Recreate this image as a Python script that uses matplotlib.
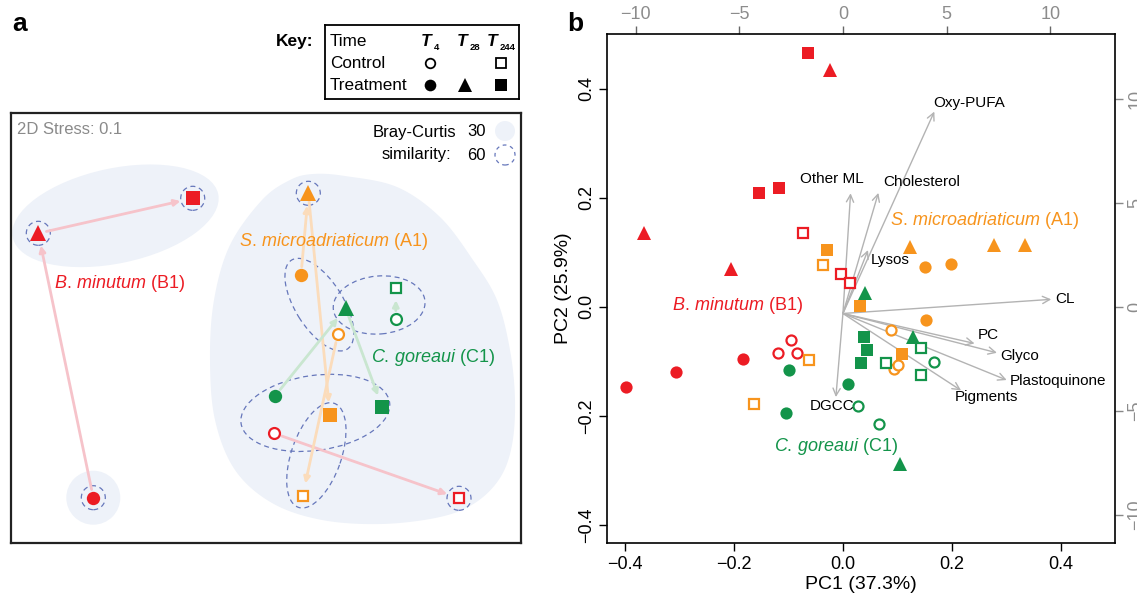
import numpy as np
import matplotlib.pyplot as plt
from matplotlib.patches import Ellipse, Circle

plt.rcParams['font.family'] = ['Liberation Sans', 'DejaVu Sans']
plt.rcParams['mathtext.fontset'] = 'custom'
plt.rcParams['mathtext.rm'] = 'Liberation Sans'
plt.rcParams['mathtext.it'] = 'Liberation Sans:italic'
plt.rcParams['mathtext.bf'] = 'Liberation Sans:bold'

W, H = 1137, 594
RED, ORANGE, GREEN = "#ec1c24", "#f7941d", "#13944a"
PALE = {"B1": "#f6c3ca", "A1": "#fbdcbb", "C1": "#c9e6d0"}
COL = {"B1": RED, "A1": ORANGE, "C1": GREEN}
FILL = "#eef2f9"
DASH = "#6677bb"

# ── groups: (marker, filled) ─────────────────────────────────────────────────
GROUPS = ["T4 ctrl", "T4 trt", "T28 trt", "T244 ctrl", "T244 trt"]
MARK = {"T4 ctrl": ("o", False), "T4 trt": ("o", True), "T28 trt": ("^", True),
        "T244 ctrl": ("s", False), "T244 trt": ("s", True)}

# ── panel a: NMDS centroids (order = GROUPS) ─────────────────────────────────
nmds_B1_x = [0.09, -1.717, -2.267, 1.94, -0.723]
nmds_B1_y = [-1.053, -1.697, 0.947, -1.703, 1.297]
nmds_A1_x = [0.727, 0.36, 0.433, 0.377, 0.65]
nmds_A1_y = [-0.063, 0.53, 1.347, -1.677, -0.87]
nmds_C1_x = [1.307, 0.10, 0.807, 1.31, 1.173]
nmds_C1_y = [0.09, -0.68, 0.197, 0.403, -0.793]

# 30 % similarity contour around A1 / C1 / B1 controls
blob_x = [0.48, 0.80, 1.32, 1.75, 2.08, 2.32, 2.45, 2.50, 2.47, 2.35, 2.10, 1.75,
          1.17, 0.57, 0.07, -0.30, -0.50, -0.55, -0.51, -0.35, -0.03, 0.25]
blob_y = [1.54, 1.52, 1.41, 1.11, 0.68, 0.28, -0.22, -0.72, -1.17, -1.50, -1.75, -1.89,
          -1.96, -1.92, -1.75, -1.42, -0.92, -0.32, 0.28, 0.83, 1.28, 1.48]

# 60 % similarity groups: members (species, group), width, height, angle
groups60 = [
    ([("A1", "T4 trt"), ("A1", "T4 ctrl")], 1.05, 0.48, -58),
    ([("C1", "T28 trt"), ("C1", "T4 ctrl"), ("C1", "T244 ctrl")], 0.92, 0.58, 5),
    ([("C1", "T4 trt"), ("A1", "T244 trt"), ("C1", "T244 trt"), ("B1", "T4 ctrl")], 1.50, 0.75, 8),
    ([("A1", "T244 trt"), ("A1", "T244 ctrl")], 1.10, 0.50, 71),
]
singles60 = [("B1", "T28 trt"), ("B1", "T244 trt"), ("B1", "T4 trt"),
             ("A1", "T28 trt"), ("B1", "T244 ctrl")]

# ── panel b: PCA scores (x list, y list) ─────────────────────────────────────
pc_B1 = {
    "T4 ctrl":   ([-0.096, -0.119, -0.084], [-0.061, -0.084, -0.084]),
    "T4 trt":    ([-0.398, -0.307, -0.184], [-0.146, -0.120, -0.096]),
    "T28 trt":   ([-0.366, -0.205, -0.024], [0.135, 0.069, 0.434]),
    "T244 ctrl": ([-0.074, -0.003, 0.013], [0.135, 0.061, 0.043]),
    "T244 trt":  ([-0.155, -0.117, -0.065], [0.208, 0.217, 0.465]),
}
pc_A1 = {
    "T4 ctrl":   ([0.089, 0.093, 0.102], [-0.043, -0.113, -0.107]),
    "T4 trt":    ([0.151, 0.199, 0.153], [0.073, 0.078, -0.024]),
    "T28 trt":   ([0.124, 0.278, 0.335], [0.110, 0.113, 0.113]),
    "T244 ctrl": ([-0.036, -0.062, -0.164], [0.077, -0.098, -0.178]),
    "T244 trt":  ([-0.029, 0.031, 0.108], [0.105, 0.001, -0.087]),
}
pc_C1 = {
    "T4 ctrl":   ([0.167, 0.028, 0.067], [-0.101, -0.182, -0.215]),
    "T4 trt":    ([-0.099, 0.010, -0.105], [-0.116, -0.142, -0.195]),
    "T28 trt":   ([0.040, 0.129, 0.104], [0.026, -0.055, -0.288]),
    "T244 ctrl": ([0.079, 0.144, 0.144], [-0.102, -0.076, -0.125]),
    "T244 trt":  ([0.038, 0.045, 0.034], [-0.055, -0.079, -0.102]),
}

# loadings (secondary axis units)
load_names = ["Oxy-PUFA", "Other ML", "Cholesterol", "Lysos", "CL", "PC", "Glyco",
              "Plastoquinone", "Pigments", "DGCC"]
load_x = [4.41, 0.37, 1.71, 1.21, 10.05, 6.35, 7.43, 7.90, 5.70, -0.34]
load_y = [9.71, 5.78, 5.80, 3.05, 0.68, -1.44, -1.89, -3.20, -3.70, -4.02]
label_xy = [(0.232, 0.373), (-0.021, 0.234), (0.144, 0.228), (0.087, 0.086), (0.409, 0.014),
            (0.267, -0.052), (0.324, -0.089), (0.396, -0.136), (0.263, -0.165), (-0.020, -0.182)]
SCALE = 26.25
ORIGIN = (0.0, -0.012)


def fx(px):
    return px / W


def fy(py):
    return 1 - py / H


def smooth_closed(xs, ys, n=24):
    pts = np.column_stack([xs, ys])
    N = len(pts)
    t = np.linspace(0, 1, n, endpoint=False)[:, None]
    out = []
    for i in range(N):
        p0, p1, p2, p3 = pts[(i - 1) % N], pts[i], pts[(i + 1) % N], pts[(i + 2) % N]
        out.append(0.5 * (2 * p1 + (-p0 + p2) * t + (2 * p0 - 5 * p1 + 4 * p2 - p3) * t ** 2
                          + (-p0 + 3 * p1 - 3 * p2 + p3) * t ** 3))
    return np.vstack(out)


def draw_marker(ax, x, y, group, color, ms, mew, z=5):
    m, filled = MARK[group]
    size = ms * (1.15 if m == "^" else 1.0) * (0.82 if not filled else 1.0)
    ax.plot(x, y, ls="none", marker=m, ms=size,
            mfc=color if filled else "white", mec=color, mew=mew if not filled else 0,
            zorder=z, clip_on=False)


def species_label(ax, x, y, genus, name, code, color):
    ax.text(x, y, r"$\mathit{%s.\,%s}$ (%s)" % (genus, name, code), color=color,
            fontsize=13, ha="center", va="center", zorder=6)


fig = plt.figure(figsize=(W / 100, H / 100), dpi=100)

# ── panel a ──────────────────────────────────────────────────────────────────
axa = fig.add_axes([fx(11), fy(543.3), (520.7 - 11) / W, (543.3 - 113.3) / H])
axa.set_xlim(-2.54, 2.557)
axa.set_ylim(-2.153, 2.147)
axa.set_xticks([])
axa.set_yticks([])
for s in axa.spines.values():
    s.set_linewidth(1.6)
    s.set_color("#222222")

nmds = {"B1": (nmds_B1_x, nmds_B1_y), "A1": (nmds_A1_x, nmds_A1_y), "C1": (nmds_C1_x, nmds_C1_y)}


def pos(sp, g):
    xs, ys = nmds[sp]
    i = GROUPS.index(g)
    return xs[i], ys[i]


# 30 % contours
blob = smooth_closed(blob_x, blob_y)
axa.fill(blob[:, 0], blob[:, 1], color=FILL, lw=0, zorder=0)
p1, p2 = pos("B1", "T28 trt"), pos("B1", "T244 trt")
axa.add_patch(Ellipse(((p1[0] + p2[0]) / 2, (p1[1] + p2[1]) / 2), 2.10, 0.95, angle=12,
                      color=FILL, lw=0, zorder=0))
axa.add_patch(Circle(pos("B1", "T4 trt"), 0.27, color=FILL, lw=0, zorder=0))

# 60 % contours
for members, w, h, ang in groups60:
    pts = np.array([pos(sp, g) for sp, g in members])
    axa.add_patch(Ellipse(pts.mean(axis=0), w, h, angle=ang, fill=False, ec=DASH,
                          lw=0.9, ls=(0, (4, 3)), zorder=1))
for sp, g in singles60:
    axa.add_patch(Circle(pos(sp, g), 0.12, fill=False, ec=DASH, lw=0.9,
                         ls=(0, (4, 3)), zorder=1))

# trajectories
for sp in ["B1", "A1", "C1"]:
    for a, b in [("T4 trt", "T28 trt"), ("T28 trt", "T244 trt"), ("T4 ctrl", "T244 ctrl")]:
        axa.annotate("", xy=pos(sp, b), xytext=pos(sp, a),
                     arrowprops=dict(arrowstyle="-|>", color=PALE[sp], lw=2.0,
                                     shrinkA=6, shrinkB=9, mutation_scale=9), zorder=2)

for sp in ["B1", "A1", "C1"]:
    for g in GROUPS:
        x, y = pos(sp, g)
        draw_marker(axa, x, y, g, COL[sp], 9.6, 1.6)

species_label(axa, -1.45, 0.44, "B", "minutum", "B1", RED)
species_label(axa, 0.683, 0.863, "S", "microadriaticum", "A1", ORANGE)
species_label(axa, 1.683, -0.293, "C", "goreaui", "C1", GREEN)

axa.text(-2.48, 1.99, "2D Stress: 0.1", color="#8a8a8a", fontsize=12, ha="left", va="center")
axa.text(1.917, 1.96, "Bray-Curtis", fontsize=12, ha="right", va="center")
axa.text(1.867, 1.74, "similarity:", fontsize=12, ha="right", va="center")
axa.text(2.117, 1.96, "30", fontsize=12, ha="center", va="center")
axa.text(2.117, 1.73, "60", fontsize=12, ha="center", va="center")
axa.add_patch(Circle((2.40, 1.97), 0.10, color=FILL, lw=0))
axa.add_patch(Circle((2.40, 1.73), 0.10, fill=False, ec=DASH, lw=0.9, ls=(0, (3, 3))))

# ── key box ──────────────────────────────────────────────────────────────────
axk = fig.add_axes([fx(325), fy(99), (519.3 - 325) / W, (99 - 25) / H])
axk.set_xlim(325, 519.3)
axk.set_ylim(99, 25)
axk.set_xticks([])
axk.set_yticks([])
for s in axk.spines.values():
    s.set_linewidth(1.3)
fig.text(fx(313), fy(41.7), "Key:", fontsize=12.5, fontweight="bold", ha="right", va="center")
for lbl, yy in [("Time", 41.7), ("Control", 63.3), ("Treatment", 85)]:
    axk.text(330, yy, lbl, fontsize=12.3, ha="left", va="center")
for tx, sub, sx in [(425.7, "4", 433.5), (462.3, "28", 470), (492, "244", 500)]:
    axk.text(tx, 41.7, "T", fontsize=12.5, fontweight="bold", style="italic",
             ha="center", va="center")
    axk.text(sx, 47, sub, fontsize=6.8, fontweight="bold", ha="left", va="center")
for g, xx, yy in [("T4 ctrl", 430, 63.3), ("T244 ctrl", 500.7, 63.3), ("T4 trt", 430, 85),
                  ("T28 trt", 465, 85), ("T244 trt", 500.7, 85)]:
    draw_marker(axk, xx, yy, g, "black", 8.4, 1.3)

# ── panel b ──────────────────────────────────────────────────────────────────
axb = fig.add_axes([fx(607.3), fy(543.3), (1115 - 607.3) / W, (543.3 - 34) / H])
axb.set_xlim(-0.433, 0.5)
axb.set_ylim(-0.433, 0.5)
for s in axb.spines.values():
    s.set_linewidth(1.2)
ticks = [-0.4, -0.2, 0.0, 0.2, 0.4]
tlabels = ["\u22120.4", "\u22120.2", "0.0", "0.2", "0.4"]
axb.set_xticks(ticks, labels=tlabels)
axb.set_yticks(ticks, labels=tlabels)
axb.tick_params(direction="out", length=6, width=1, labelsize=13, pad=3)
axb.tick_params(axis="y", labelrotation=90)
for lbl in axb.get_yticklabels():
    lbl.set_va("center")
axb.set_xlabel("PC1 (37.3%)", fontsize=14, labelpad=2)
axb.set_ylabel("PC2 (25.9%)", fontsize=14, labelpad=4)

stick = [-10, -5, 0, 5, 10]
slabels = ["\u221210", "\u22125", "0", "5", "10"]
secx = axb.secondary_xaxis("top", functions=(lambda v: v * SCALE, lambda v: v / SCALE))
secx.set_xticks(stick, labels=slabels)
secx.tick_params(direction="out", length=6, width=1, color="#666666", labelcolor="#8c8c8c",
                 labelsize=13, pad=2)
secx.spines["top"].set_visible(False)
secy = axb.secondary_yaxis("right", functions=(lambda v: v * SCALE, lambda v: v / SCALE))
secy.set_yticks(stick, labels=slabels)
secy.tick_params(direction="out", length=6, width=1, color="#888888", labelcolor="#8c8c8c",
                 labelsize=13, pad=3, labelrotation=90)
for lbl in secy.get_yticklabels():
    lbl.set_va("center")
secy.spines["right"].set_visible(False)

ox, oy = ORIGIN
for name, lx, ly, (tx, ty) in zip(load_names, load_x, load_y, label_xy):
    axb.annotate("", xy=(ox + lx / SCALE, oy + ly / SCALE), xytext=(ox, oy),
                 arrowprops=dict(arrowstyle="->", color="#b3b3b3", lw=1.0,
                                 shrinkA=0, shrinkB=0, mutation_scale=13), zorder=2)
    axb.text(tx, ty, name, fontsize=11, ha="center", va="center", zorder=4)

for sp, data in [("B1", pc_B1), ("A1", pc_A1), ("C1", pc_C1)]:
    for g in GROUPS:
        xs, ys = data[g]
        draw_marker(axb, xs, ys, g, COL[sp], 8.8, 1.6, z=3)

species_label(axb, -0.193, 0.002, "B", "minutum", "B1", RED)
species_label(axb, 0.261, 0.158, "S", "microadriaticum", "A1", ORANGE)
species_label(axb, -0.013, -0.256, "C", "goreaui", "C1", GREEN)

fig.text(fx(20), fy(24), "a", fontsize=19, fontweight="bold", ha="center", va="center")
fig.text(fx(575), fy(24), "b", fontsize=19, fontweight="bold", ha="center", va="center")

fig.savefig("out.png", dpi=100)
